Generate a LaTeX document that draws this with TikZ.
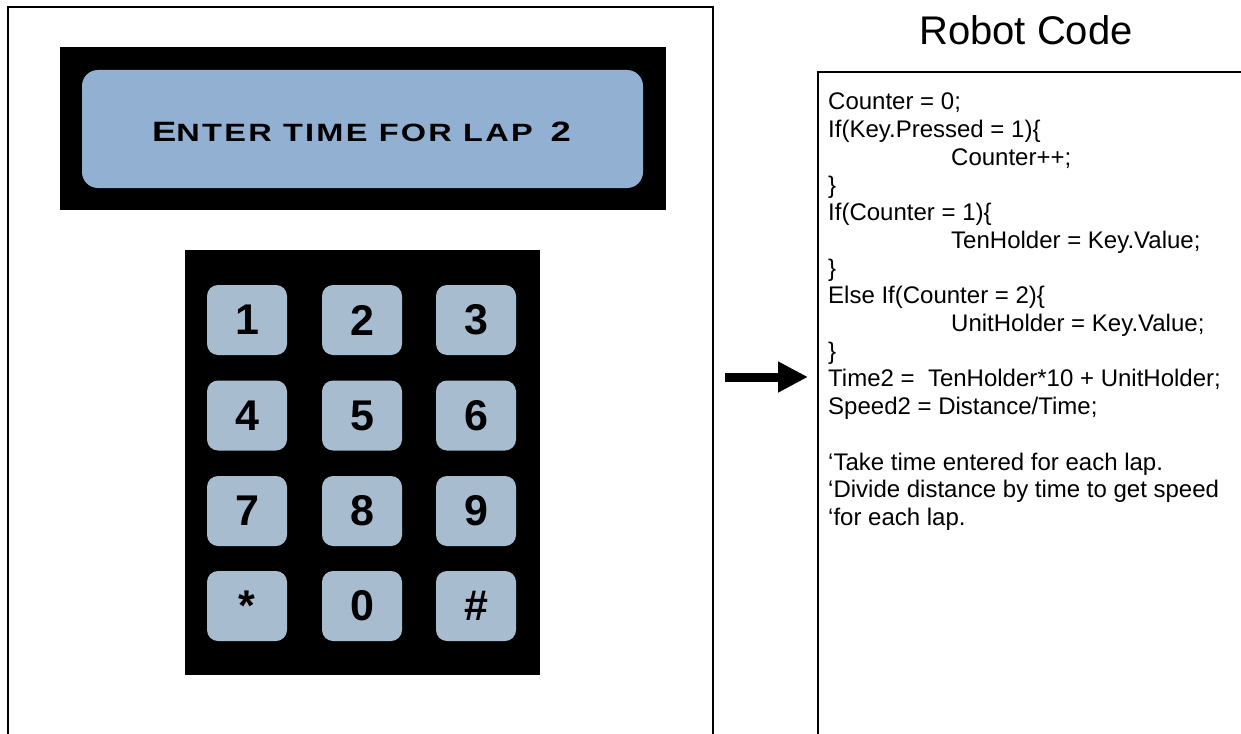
\documentclass[tikz,border=0pt]{standalone}
\usepackage{fontspec}
\setmainfont{Liberation Sans}
\usetikzlibrary{arrows.meta}
\definecolor{lcdblue}{RGB}{146,176,210}
\definecolor{keyblue}{RGB}{168,188,208}
\begin{document}
\begin{tikzpicture}[x=1pt,y=-1pt,
  frame/.style={draw=black,line width=1.6pt},
  panel/.style={fill=black,draw=none,inner sep=0pt},
  screen/.style={fill=lcdblue,draw=none,rounded corners=16pt,inner sep=0pt,minimum width=561pt,minimum height=118pt},
  keybox/.style={fill=keyblue,draw=none,rounded corners=11pt,inner sep=0pt,minimum width=80pt,minimum height=70pt,font=\fontsize{43}{43}\selectfont\bfseries},
  codetext/.style={align=left,inner sep=0pt,font=\fontsize{24}{27.7}\selectfont},
  bigarrow/.style={line width=9pt,-{Triangle[length=30pt,width=29pt]}}
]
\useasboundingbox (0,0) rectangle (1241,733);
\fill[white] (0,0) rectangle (1241,733);
% left frame
\draw[frame] (8,740) -- (8,7) -- (713,7) -- (713,740);
% LCD
\node[panel,minimum width=606pt,minimum height=163pt] (lcd) at (363,128.5) {};
\node[screen] (screen) at (362.5,129) {};
\node[font=\bfseries,inner sep=0pt] (lcdtext) at (361.5,132)
  {\scalebox{1.3}[1]{\addfontfeature{LetterSpace=7}\fontsize{28}{28}\selectfont E\fontsize{25}{25}\selectfont NTER TIME FOR LAP\hspace{5pt} \fontsize{28}{28}\selectfont 2}};
% keypad
\node[panel,minimum width=355pt,minimum height=425pt] (pad) at (362,462.5) {};
\node[keybox] (k1) at (247,320) {1};
\node[keybox] (k2) at (362,320) {2};
\node[keybox] (k3) at (476,320) {3};
\node[keybox] (k4) at (247,415.5) {4};
\node[keybox] (k5) at (362,415.5) {5};
\node[keybox] (k6) at (476,415.5) {6};
\node[keybox] (k7) at (247,511) {7};
\node[keybox] (k8) at (362,511) {8};
\node[keybox] (k9) at (476,511) {9};
\node[keybox] (kstar) at (247,606) {*};
\node[keybox] (k0) at (362,606) {0};
\node[keybox] (khash) at (476,606) {\#};
% arrow
\coordinate (arrowstart) at (725,377);
\coordinate (arrowend) at (808,377);
\draw[bigarrow] (arrowstart) -- (arrowend);
% code box
\node[inner sep=0pt,font=\fontsize{40}{40}\selectfont] (title) at (1026,30) {Robot Code};
\draw[frame,line width=1.3pt] (1250,72) -- (818,72) -- (818,740);
\node[codetext,anchor=north west] (code) at (828,93) {%
Counter = 0;\\
If(Key.Pressed = 1)\{\\
\hspace*{123pt}Counter++;\\
\}\\
If(Counter = 1)\{\\
\hspace*{123pt}TenHolder = Key.Value;\\
\}\\
Else If(Counter = 2)\{\\
\hspace*{123pt}UnitHolder = Key.Value;\\
\}\\
Time2 =\ \ TenHolder*10 + UnitHolder;\\
Speed2 = Distance/Time;\\
\mbox{}\\
`Take time entered for each lap.\\
`Divide distance by time to get speed\\
`for each lap.};
\end{tikzpicture}
\end{document}
